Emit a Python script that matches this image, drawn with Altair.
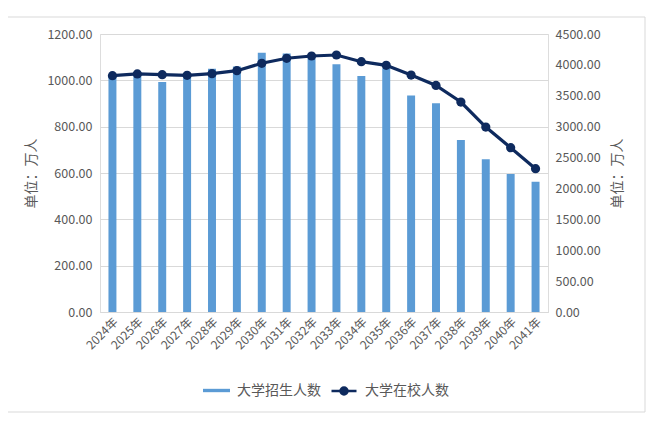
import altair as alt
import pandas as pd

years = [f"{y}年" for y in range(2024, 2042)]
enroll = [1023, 1030, 993, 1023, 1050, 1060, 1119, 1116, 1095, 1069, 1019, 1052, 934, 901, 742, 659, 596, 562]
in_school = [3825, 3853, 3842, 3831, 3858, 3906, 4026, 4107, 4144, 4160, 4052, 3993, 3836, 3668, 3399, 2994, 2659, 2320]
bar_name = "大学招生人数"
line_name = "大学在校人数"
left_ticks = [0, 200, 400, 600, 800, 1000, 1200]
right_ticks = [0, 500, 1000, 1500, 2000, 2500, 3000, 3500, 4000, 4500]

df = pd.DataFrame({"year": years, "enroll": enroll, "total": in_school,
                   "s1": bar_name, "s2": line_name})

FONT = "Noto Sans CJK SC"
GRAY = "#595959"
BLUE = "#5B9BD5"
NAVY = "#0E2A5E"

xenc = alt.X("year:N", sort=years,
             scale=alt.Scale(paddingInner=0.68, paddingOuter=0.34),
             axis=alt.Axis(title=None, labelAngle=-45, labelColor=GRAY, labelFontSize=12,
                           labelFont=FONT, ticks=False, domainColor="#D9D9D9", labelPadding=4))

bars = alt.Chart(df).mark_bar(color=BLUE).encode(
    x=xenc,
    y=alt.Y("enroll:Q", scale=alt.Scale(domain=[0, 1200], nice=False),
            axis=alt.Axis(values=left_ticks, format=".2f", title="单位：万人", titleAngle=270,
                          titleFontWeight="normal", titleFontSize=14, titleColor=GRAY, titleFont=FONT,
                          titlePadding=8, labelColor=GRAY, labelFontSize=12.5, labelFont=FONT,
                          ticks=False, domain=False, gridColor="#D9D9D9", labelPadding=8)),
    color=alt.Color("s1:N", scale=alt.Scale(domain=[bar_name], range=[BLUE]),
                    legend=alt.Legend(title=None, orient="none", legendX=103, legendY=343,
                                      symbolType="M-1,-0.125L1,-0.125L1,0.125L-1,0.125Z",
                                      symbolSize=729, symbolStrokeWidth=0,
                                      symbolFillColor=BLUE, labelFontSize=14, labelColor=GRAY,
                                      labelFont=FONT, labelOffset=7, padding=0)),
)

line = alt.Chart(df).mark_line(strokeWidth=3.2, point=alt.OverlayMarkDef(filled=True, size=85)).encode(
    x=xenc,
    y=alt.Y("total:Q", scale=alt.Scale(domain=[0, 4500], nice=False),
            axis=alt.Axis(values=right_ticks, format=".2f", title="单位：万人", titleAngle=270,
                          orient="right", titleFontWeight="normal", titleFontSize=14,
                          titleColor=GRAY, titleFont=FONT, titlePadding=24, labelColor=GRAY,
                          labelFontSize=12.5, labelFont=FONT, ticks=False, domain=False,
                          grid=False, labelPadding=7)),
    color=alt.Color("s2:N", scale=alt.Scale(domain=[line_name], range=[NAVY]),
                    legend=alt.Legend(title=None, orient="none", legendX=230, legendY=343,
                                      symbolType="M-1,0L1,0M0.28,0A0.28,0.28,0,1,1,-0.28,0A0.28,0.28,0,1,1,0.28,0",
                                      symbolSize=625, symbolStrokeWidth=2.5,
                                      symbolFillColor=NAVY, symbolStrokeColor=NAVY,
                                      labelFontSize=14, labelColor=GRAY,
                                      labelFont=FONT, labelOffset=7, padding=0)),
)

frame = alt.Chart(pd.DataFrame({"k": [0]})).mark_rect(fill=None, stroke="#D9D9D9", strokeWidth=1).encode(
    x=alt.value(-96), x2=alt.value(545), y=alt.value(-17), y2=alt.value(378)
)

chart = alt.layer(frame, bars, line).resolve_scale(
    y="independent", color="independent"
).properties(
    width=448, height=278,
    autosize=alt.AutoSizeParams(type="none"),
    padding={"left": 92, "top": 26, "right": 104, "bottom": 101},
).configure_view(stroke=None).configure(background="white")

chart.save("out.html", embed_options={"renderer": "svg", "actions": False})
